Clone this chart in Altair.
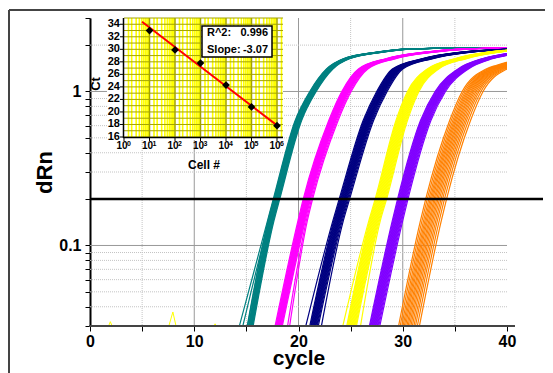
import altair as alt
import pandas as pd

# ---------------- main amplification plot ----------------
groups = ["10^6", "10^5", "10^4", "10^3", "10^2", "10^1"]
colors = ["#008080", "#FF00FF", "#000080", "#FFFF00", "#8000FF", "#FF8000"]
widths = [1.2, 1.2, 1.2, 1.2, 1.2, 1.0]

# central curve of each group (cycle, dRn)
teal_cycle = [15.35, 17.35, 17.9, 20.0, 21.4, 23.0, 24.6, 27.8, 31.0, 40.0, 42.0]
teal_drn = [0.03, 0.145, 0.2, 0.648, 1.0, 1.40, 1.63, 1.80, 1.89, 1.93, 1.93]
magenta_cycle = [18.2, 20.4, 20.9, 23.35, 24.6, 26.2, 28.8, 32.6, 36.2, 40.0, 42.0]
magenta_drn = [0.03, 0.145, 0.2, 0.648, 1.0, 1.40, 1.63, 1.80, 1.89, 1.92, 1.93]
navy_cycle = [21.5, 23.8, 24.4, 26.7, 28.0, 29.5, 32.3, 36.1, 40.0, 42.0]
navy_drn = [0.03, 0.145, 0.2, 0.648, 1.0, 1.40, 1.63, 1.80, 1.88, 1.90]
yellow_cycle = [25.1, 27.3, 27.9, 29.9, 31.0, 32.9, 35.5, 38.7, 40.0, 42.0]
yellow_drn = [0.03, 0.145, 0.2, 0.648, 1.0, 1.40, 1.63, 1.80, 1.84, 1.88]
violet_cycle = [27.3, 29.5, 30.0, 32.2, 33.6, 35.8, 38.1, 40.0, 42.0]
violet_drn = [0.03, 0.145, 0.2, 0.648, 1.0, 1.40, 1.63, 1.74, 1.82]
orange_cycle = [30.6, 32.7, 33.2, 35.5, 36.7, 39.0, 40.0, 42.0]
orange_drn = [0.03, 0.145, 0.2, 0.648, 1.0, 1.40, 1.48, 1.62]

# replicate shifts (cycles) and extra shift of each replicate's first point
teal_shift = [-0.32, -0.27, -0.23, -0.19, -0.15, -0.11, -0.07, -0.03, 0.0, 0.03, 0.07,
              0.11, 0.15, 0.19, 0.24, 0.3]
teal_early = [-0.7, 0, 0, -0.5, 0, 0, 0, 0, 0, 0, 0, 0, 0, 0, 0, 0]
magenta_shift = [-0.45, -0.38, -0.32, -0.27, -0.22, -0.17, -0.12, -0.07, -0.03, 0.02,
                 0.07, 0.12, 0.18, 0.25, 0.35, 0.45]
magenta_early = [0, 0, 0, 0, 0, 0, 0, 0, 0, 0, 0, 0, 0, 0, 0.4, 0.5]
navy_shift = [-0.5, -0.42, -0.35, -0.29, -0.23, -0.17, -0.11, -0.05, 0.0, 0.05, 0.11,
              0.17, 0.24, 0.31, 0.4, 0.5]
navy_early = [-0.3, 0, 0, 0, 0, 0, 0, 0, 0, 0, 0, 0, 0, 0, 0, 0.2]
yellow_shift = [-0.55, -0.47, -0.4, -0.33, -0.26, -0.19, -0.12, -0.05, 0.02, 0.09, 0.16,
                0.23, 0.3, 0.38, 0.46, 0.55]
yellow_early = [-0.3, 0, 0, 0, 0, 0, 0, 0, 0, 0, 0, 0, 0, 0, 0, 0.3]
violet_shift = [-0.5, -0.43, -0.36, -0.3, -0.24, -0.18, -0.12, -0.06, 0.0, 0.06, 0.12,
                0.18, 0.25, 0.32, 0.4, 0.5]
violet_early = [0, 0, 0, 0, 0, 0, 0, 0, 0, 0, 0, 0, 0, 0, 0, 0]
orange_shift = [-1.0, -0.85, -0.7, -0.57, -0.45, -0.33, -0.2, -0.08, 0.05, 0.18, 0.32,
                0.47, 0.62, 0.8, 1.0]
orange_early = [0, 0, 0, 0, 0, 0, 0, 0, 0, 0, 0, 0, 0, 0, 0]

# baseline noise of one yellow well
noise_cycle = [0.5, 1.7, 1.95, 2.2, 7.5, 7.95, 8.3, 11.8, 12.0, 12.2, 14.0]
noise_drn = [0.029, 0.029, 0.032, 0.029, 0.029, 0.037, 0.029, 0.029, 0.031, 0.029, 0.029]

threshold = [0.2]

x_ticks = [0, 5, 10, 15, 20, 25, 30, 35, 40]
x_grid_major = [10, 20, 30]
x_grid_minor = [5, 15, 25, 35]
y_ticks = [0.03, 0.04, 0.05, 0.06, 0.07, 0.08, 0.09, 0.1, 0.2, 0.3, 0.4, 0.5,
           0.6, 0.7, 0.8, 0.9, 1, 2, 3]
y_grid_major = [1, 0.1]
y_grid_minor = [0.04, 0.05, 0.06, 0.07, 0.08, 0.09, 0.2, 0.3, 0.4, 0.5, 0.6,
                0.7, 0.8, 0.9, 2]
x_title = ["cycle"]

# ---------------- inset (Ct vs cell number) ----------------
cells = [1e1, 1e2, 1e3, 1e4, 1e5, 1e6]
ct = [33.0, 29.9, 27.8, 24.3, 20.8, 17.8]
fit_cells = [5.1, 1e6]
fit_ct = [34.4, 17.85]
ct_ticks = [16, 18, 20, 22, 24, 26, 28, 30, 32, 34]
ct_grid = list(range(16, 36))
decades = [1e0, 1e1, 1e2, 1e3, 1e4, 1e5, 1e6]
decade_exp = ["0", "1", "2", "3", "4", "5", "6"]
minor_mult = [1.5, 2, 3, 4, 5, 6, 7, 8, 9]
box_labels = ["R^2:", "Slope:"]
box_values = ["0.996", "-3.07"]

FONT = "Liberation Sans"

# ---- build tables ----
series = [
    (teal_cycle, teal_drn, teal_shift, teal_early),
    (magenta_cycle, magenta_drn, magenta_shift, magenta_early),
    (navy_cycle, navy_drn, navy_shift, navy_early),
    (yellow_cycle, yellow_drn, yellow_shift, yellow_early),
    (violet_cycle, violet_drn, violet_shift, violet_early),
    (orange_cycle, orange_drn, orange_shift, orange_early),
]
rows = []
for g, (cyc, drn, shifts, early) in zip(groups, series):
    for r, (s, e) in enumerate(zip(shifts, early)):
        for i, (c, v) in enumerate(zip(cyc, drn)):
            rows.append({"group": g, "rep": f"{g}-{r}",
                         "cycle": c + s + (e if i == 0 else 0), "dRn": v})
curves = pd.DataFrame(rows)
noise = pd.DataFrame({"cycle": noise_cycle, "dRn": noise_drn, "rep": "noise"})

xs = alt.Scale(domain=[0, 40], nice=False, zero=False)
ys = alt.Scale(type="log", domain=[0.03, 3], nice=False)

x_axis = alt.Axis(values=x_ticks, labelExpr="datum.value % 10 == 0 ? datum.label : ''",
                  title=None, labelFontSize=16, labelFontWeight="bold", labelColor="black",
                  labelPadding=2, labelFlush=False, tickSize=5, tickColor="black",
                  domain=False, grid=False, labelFont=FONT)
y_axis = alt.Axis(values=y_ticks,
                  labelExpr="datum.value == 1 ? '1' : (datum.value == 0.1 ? '0.1' : '')",
                  title="dRn", titleFontSize=22, titleFontWeight="bold", titleColor="black",
                  titlePadding=2, labelFontSize=16, labelFontWeight="bold", labelColor="black",
                  labelPadding=4, labelFlush=False, tickSize=5, tickColor="black",
                  domainColor="black", domainWidth=2, grid=False, labelFont=FONT,
                  titleFont=FONT)

vminor = alt.Chart(pd.DataFrame({"cycle": x_grid_minor})).mark_rule(
    color="#c4c4c4", strokeWidth=1, strokeDash=[1, 1]).encode(x=alt.X("cycle:Q", scale=xs))
vmajor = alt.Chart(pd.DataFrame({"cycle": x_grid_major})).mark_rule(
    color="#999999", strokeWidth=1).encode(x=alt.X("cycle:Q", scale=xs))
hminor = alt.Chart(pd.DataFrame({"dRn": y_grid_minor})).mark_rule(
    color="#c4c4c4", strokeWidth=1, strokeDash=[1, 1]).encode(y=alt.Y("dRn:Q", scale=ys))
hmajor = alt.Chart(pd.DataFrame({"dRn": y_grid_major})).mark_rule(
    color="#999999", strokeWidth=1).encode(y=alt.Y("dRn:Q", scale=ys))

curve_layer = alt.Chart(curves).mark_line(clip=True, interpolate="monotone").encode(
    x=alt.X("cycle:Q", scale=xs, axis=x_axis),
    y=alt.Y("dRn:Q", scale=ys, axis=y_axis),
    color=alt.Color("group:N", scale=alt.Scale(domain=groups, range=colors), legend=None),
    strokeWidth=alt.StrokeWidth("group:N", scale=alt.Scale(domain=groups, range=widths),
                                legend=None),
    detail="rep:N",
)
noise_layer = alt.Chart(noise).mark_line(strokeWidth=1, clip=True, color="#FFFF00").encode(
    x=alt.X("cycle:Q", scale=xs), y=alt.Y("dRn:Q", scale=ys), detail="rep:N")

thr = alt.Chart(pd.DataFrame({"dRn": threshold})).mark_rule(
    color="black", strokeWidth=2.5).encode(
    y=alt.Y("dRn:Q", scale=ys), x=alt.value(0), x2=alt.value(453))

one = pd.DataFrame({"a": [0]})
x_baseline = alt.Chart(one).mark_rule(color="#444", strokeWidth=2).encode(
    x=alt.value(-1), x2=alt.value(425), y=alt.value(308))
frame_left = alt.Chart(one).mark_rule(color="#444", strokeWidth=2).encode(
    x=alt.value(-81), y=alt.value(-8), y2=alt.value(355))
frame_top = alt.Chart(one).mark_rule(color="#444", strokeWidth=2).encode(
    x=alt.value(-81), x2=alt.value(455), y=alt.value(-8))
xtitle = alt.Chart(pd.DataFrame({"t": x_title})).mark_text(
    font=FONT, fontSize=21, fontWeight="bold", align="center", baseline="alphabetic",
    color="black").encode(x=alt.value(209), y=alt.value(347), text="t:N")

main = alt.layer(vminor, vmajor, hminor, hmajor, curve_layer, noise_layer, thr,
                 x_baseline, frame_left, frame_top, xtitle)

# ---- inset ----
isx = alt.Scale(type="log", domain=[1, 1e6], range=[34, 187], nice=False)
isy = alt.Scale(domain=[16, 35], range=[119, 0], nice=False, zero=False)


def IX(f="cells:Q"):
    return alt.X(f, scale=isx, axis=None)


def IY(f="ct:Q"):
    return alt.Y(f, scale=isy, axis=None)


minor_vals = [m * d for d in decades[:-1] for m in minor_mult] + [1.5e6]

i_bg = alt.Chart(one).mark_rect(color="white").encode(
    x=alt.value(17), x2=alt.value(193), y=alt.value(0), y2=alt.value(122))
i_yel = alt.Chart(pd.DataFrame({"cells": minor_vals})).mark_rule(
    color="#FFFF00", strokeWidth=1.6).encode(x=IX(), y=alt.value(0), y2=alt.value(119))
i_hgrid = alt.Chart(pd.DataFrame({"ct": ct_grid})).mark_rule(
    color="#A3A300", strokeWidth=1).encode(y=IY(), x=alt.value(34), x2=alt.value(193))
i_vgrid = alt.Chart(pd.DataFrame({"cells": decades[1:]})).mark_rule(
    color="#A3A300", strokeWidth=1.5).encode(x=IX(), y=alt.value(0), y2=alt.value(119))
i_yaxis = alt.Chart(one).mark_rule(color="black", strokeWidth=1.5).encode(
    x=alt.value(33.5), y=alt.value(0), y2=alt.value(120))
i_xaxis = alt.Chart(one).mark_rule(color="black", strokeWidth=1.5).encode(
    x=alt.value(33), x2=alt.value(193), y=alt.value(119.5))
i_xticks = alt.Chart(pd.DataFrame({"cells": decades})).mark_rule(
    color="black", strokeWidth=1).encode(x=IX(), y=alt.value(119), y2=alt.value(123))
i_yticks = alt.Chart(pd.DataFrame({"ct": ct_ticks})).mark_rule(
    color="black", strokeWidth=1).encode(y=IY(), x=alt.value(30), x2=alt.value(34))
i_ylab = alt.Chart(pd.DataFrame({"ct": ct_ticks, "cells": 1.0,
                                 "label": [str(v) for v in ct_ticks]})).mark_text(
    font=FONT, fontSize=11, fontWeight="bold", align="right", baseline="middle", dx=-4,
    color="black").encode(x=IX(), y=IY(), text="label:N")
i_xlab = alt.Chart(pd.DataFrame({"cells": decades, "ct": 16.0, "b": "10"})).mark_text(
    font=FONT, fontSize=10, fontWeight="bold", align="center", baseline="top", dx=-2, dy=4,
    color="black").encode(x=IX(), y=IY(), text="b:N")
i_xexp = alt.Chart(pd.DataFrame({"cells": decades, "ct": 16.0, "e": decade_exp})).mark_text(
    font=FONT, fontSize=7, fontWeight="bold", align="left", baseline="top", dx=3, dy=3,
    color="black").encode(x=IX(), y=IY(), text="e:N")
i_ytitle = alt.Chart(pd.DataFrame({"t": ["Ct"]})).mark_text(
    font=FONT, fontSize=13, fontWeight="bold", angle=270, align="center", baseline="middle",
    color="black").encode(x=alt.value(6), y=alt.value(66), text="t:N")
i_xtitle = alt.Chart(pd.DataFrame({"t": ["Cell #"]})).mark_text(
    font=FONT, fontSize=12, fontWeight="bold", align="center", baseline="middle",
    color="black").encode(x=alt.value(114), y=alt.value(147), text="t:N")
i_fit = alt.Chart(pd.DataFrame({"cells": fit_cells, "ct": fit_ct})).mark_line(
    color="#FF0000", strokeWidth=2).encode(x=IX(), y=IY())
i_pts = alt.Chart(pd.DataFrame({"cells": cells, "ct": ct})).mark_point(
    shape="diamond", filled=True, size=60, color="black", opacity=1).encode(x=IX(), y=IY())
i_box = alt.Chart(one).mark_rect(fill="white", stroke="black", strokeWidth=1.5).encode(
    x=alt.value(112), x2=alt.value(182), y=alt.value(8), y2=alt.value(39))
i_box_l = alt.Chart(pd.DataFrame({"t": box_labels, "yy": [15, 32]})).mark_text(
    font=FONT, fontSize=11, fontWeight="bold", align="left", baseline="middle",
    color="black").encode(x=alt.value(117), y=alt.Y("yy:Q", scale=None, axis=None), text="t:N")
i_box_v = alt.Chart(pd.DataFrame({"t": box_values, "yy": [15, 32]})).mark_text(
    font=FONT, fontSize=11, fontWeight="bold", align="right", baseline="middle",
    color="black").encode(x=alt.value(178), y=alt.Y("yy:Q", scale=None, axis=None), text="t:N")

inset = alt.layer(i_bg, i_yel, i_hgrid, i_vgrid, i_yaxis, i_xaxis, i_xticks, i_yticks,
                  i_ylab, i_xlab, i_xexp, i_ytitle, i_xtitle, i_fit, i_pts, i_box,
                  i_box_l, i_box_v)

chart = alt.layer(main, inset).resolve_scale(
    x="independent", y="independent", strokeWidth="independent").properties(
    width=417, height=308,
    padding={"left": 82, "top": 10, "right": 38, "bottom": 47},
    autosize=alt.AutoSizeParams(type="none"),
).configure(font=FONT).configure_view(strokeWidth=0)

chart.save("out.html", embed_options={"renderer": "svg", "actions": False})
